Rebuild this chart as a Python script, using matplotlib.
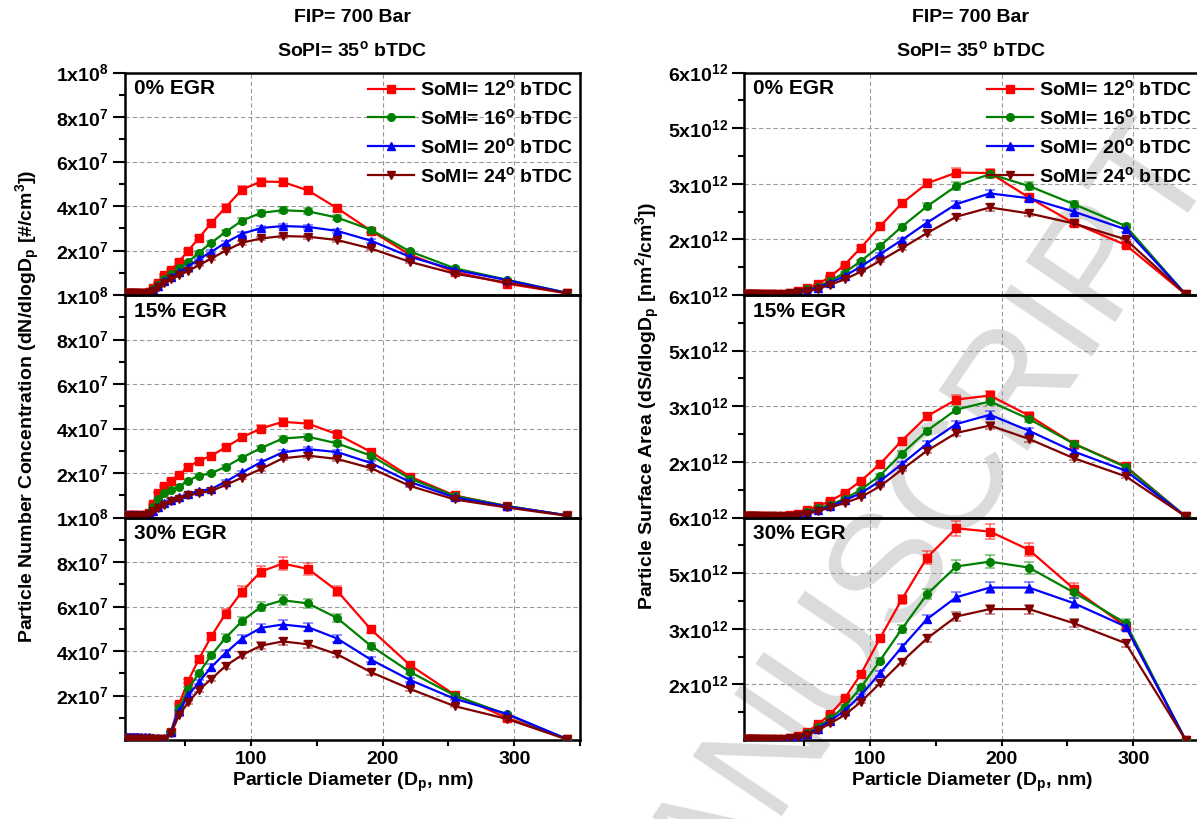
import matplotlib.pyplot as plt
import numpy as np

plt.rcParams['font.family'] = ['Liberation Sans', 'DejaVu Sans']
plt.rcParams['font.weight'] = 'bold'
plt.rcParams['axes.labelweight'] = 'bold'
plt.rcParams['mathtext.fontset'] = 'custom'
plt.rcParams['mathtext.rm'] = 'Liberation Sans:bold'
plt.rcParams['mathtext.it'] = 'Liberation Sans:bold'
plt.rcParams['mathtext.bf'] = 'Liberation Sans:bold'

# particle diameter bins (nm)
dp = [6.04, 6.98, 8.06, 9.31, 10.8, 12.4, 14.3, 16.5, 19.1, 22.1, 25.5, 29.4, 34.0, 39.2, 45.3,
      52.3, 60.4, 69.8, 80.6, 93.1, 107.5, 124.1, 143.3, 165.5, 191.1, 220.7, 254.8, 294.3, 339.8]

# number concentration dN/dlogDp, in 1e7 #/cm3
n0_12 = [0.10, 0.10, 0.10, 0.10, 0.10, 0.10, 0.10, 0.10, 0.11, 0.14, 0.30, 0.56, 0.90, 1.14, 1.50,
         2.00, 2.56, 3.24, 3.93, 4.74, 5.10, 5.08, 4.70, 3.90, 2.89, 1.81, 1.04, 0.51, 0.08]
n0_16 = [0.10, 0.10, 0.10, 0.10, 0.10, 0.10, 0.10, 0.10, 0.11, 0.13, 0.25, 0.45, 0.72, 0.95, 1.20,
         1.49, 1.91, 2.35, 2.83, 3.34, 3.69, 3.81, 3.76, 3.48, 2.93, 1.96, 1.20, 0.69, 0.10]
n0_20 = [0.10, 0.10, 0.10, 0.10, 0.10, 0.10, 0.10, 0.10, 0.11, 0.12, 0.22, 0.42, 0.62, 0.82, 1.02,
         1.28, 1.61, 1.94, 2.35, 2.75, 3.01, 3.10, 3.06, 2.88, 2.44, 1.72, 1.13, 0.67, 0.10]
n0_24 = [0.08, 0.08, 0.08, 0.08, 0.08, 0.08, 0.08, 0.08, 0.09, 0.10, 0.18, 0.35, 0.52, 0.70, 0.88,
         1.08, 1.34, 1.64, 1.99, 2.35, 2.54, 2.65, 2.62, 2.47, 2.09, 1.49, 0.96, 0.56, 0.08]

n15_12 = [0.10, 0.10, 0.10, 0.10, 0.10, 0.10, 0.10, 0.10, 0.12, 0.20, 0.60, 1.12, 1.42, 1.63, 1.90,
          2.28, 2.55, 2.78, 3.15, 3.60, 4.00, 4.30, 4.22, 3.74, 2.95, 1.84, 0.99, 0.51, 0.10]
n15_16 = [0.10, 0.10, 0.10, 0.10, 0.10, 0.10, 0.10, 0.10, 0.11, 0.18, 0.45, 0.82, 1.09, 1.24, 1.39,
          1.66, 1.88, 1.99, 2.28, 2.69, 3.12, 3.55, 3.63, 3.33, 2.78, 1.75, 0.97, 0.52, 0.10]
n15_20 = [0.10, 0.10, 0.10, 0.10, 0.10, 0.10, 0.10, 0.10, 0.11, 0.15, 0.30, 0.48, 0.64, 0.79, 0.91,
          1.06, 1.19, 1.28, 1.61, 2.03, 2.48, 2.93, 3.07, 2.94, 2.45, 1.60, 0.90, 0.50, 0.10]
n15_24 = [0.08, 0.08, 0.08, 0.08, 0.08, 0.08, 0.08, 0.08, 0.10, 0.14, 0.28, 0.43, 0.57, 0.72, 0.84,
          0.99, 1.09, 1.19, 1.46, 1.79, 2.18, 2.66, 2.78, 2.63, 2.22, 1.42, 0.81, 0.45, 0.08]

n30_12 = [0.08, 0.08, 0.08, 0.08, 0.08, 0.08, 0.08, 0.08, 0.08, 0.08, 0.06, 0.05, 0.06, 0.37, 1.62,
          2.67, 3.64, 4.66, 5.67, 6.67, 7.57, 7.93, 7.69, 6.70, 4.97, 3.37, 2.03, 1.00, 0.05]
n30_16 = [0.08, 0.08, 0.08, 0.08, 0.08, 0.08, 0.08, 0.08, 0.08, 0.08, 0.06, 0.05, 0.06, 0.37, 1.42,
          2.30, 3.01, 3.81, 4.59, 5.34, 5.99, 6.28, 6.14, 5.48, 4.23, 3.06, 2.00, 1.15, 0.05]
n30_20 = [0.12, 0.12, 0.12, 0.12, 0.12, 0.12, 0.12, 0.12, 0.12, 0.12, 0.10, 0.08, 0.07, 0.37, 1.31,
          2.01, 2.60, 3.28, 3.91, 4.56, 5.04, 5.19, 5.07, 4.56, 3.61, 2.70, 1.85, 1.18, 0.05]
n30_24 = [0.04, 0.04, 0.04, 0.04, 0.04, 0.04, 0.04, 0.04, 0.04, 0.04, 0.03, 0.03, 0.04, 0.30, 1.12,
          1.69, 2.25, 2.74, 3.33, 3.82, 4.24, 4.43, 4.30, 3.85, 3.05, 2.30, 1.52, 0.95, 0.03]

# surface area dS/dlogDp, in 1e12 nm2/cm3
s0_12 = [0.04, 0.04, 0.04, 0.04, 0.04, 0.04, 0.04, 0.04, 0.04, 0.04, 0.04, 0.04, 0.04, 0.06, 0.10,
         0.18, 0.29, 0.50, 0.81, 1.28, 1.85, 2.47, 3.01, 3.30, 3.29, 2.63, 1.94, 1.35, 0.02]
s0_16 = [0.04, 0.04, 0.04, 0.04, 0.04, 0.04, 0.04, 0.04, 0.04, 0.04, 0.04, 0.04, 0.04, 0.05, 0.09,
         0.15, 0.22, 0.38, 0.60, 0.92, 1.32, 1.84, 2.39, 2.94, 3.26, 2.94, 2.45, 1.86, 0.02]
s0_20 = [0.04, 0.04, 0.04, 0.04, 0.04, 0.04, 0.04, 0.04, 0.04, 0.04, 0.04, 0.04, 0.04, 0.05, 0.08,
         0.12, 0.20, 0.33, 0.51, 0.77, 1.10, 1.48, 1.95, 2.45, 2.74, 2.61, 2.25, 1.77, 0.02]
s0_24 = [0.04, 0.04, 0.04, 0.04, 0.04, 0.04, 0.04, 0.04, 0.04, 0.04, 0.04, 0.04, 0.04, 0.05, 0.07,
         0.10, 0.16, 0.28, 0.42, 0.63, 0.92, 1.26, 1.67, 2.11, 2.36, 2.20, 1.93, 1.50, 0.02]

s15_12 = [0.04, 0.04, 0.04, 0.04, 0.04, 0.04, 0.04, 0.04, 0.04, 0.04, 0.04, 0.04, 0.04, 0.06, 0.10,
          0.20, 0.30, 0.45, 0.66, 0.99, 1.44, 2.07, 2.73, 3.18, 3.29, 2.75, 1.99, 1.38, 0.03]
s15_16 = [0.04, 0.04, 0.04, 0.04, 0.04, 0.04, 0.04, 0.04, 0.04, 0.04, 0.04, 0.04, 0.04, 0.05, 0.08,
          0.15, 0.25, 0.35, 0.50, 0.75, 1.13, 1.72, 2.34, 2.91, 3.13, 2.66, 1.99, 1.36, 0.03]
s15_20 = [0.04, 0.04, 0.04, 0.04, 0.04, 0.04, 0.04, 0.04, 0.04, 0.04, 0.04, 0.04, 0.04, 0.05, 0.07,
          0.12, 0.20, 0.30, 0.46, 0.66, 0.98, 1.44, 1.99, 2.52, 2.77, 2.34, 1.78, 1.26, 0.03]
s15_24 = [0.04, 0.04, 0.04, 0.04, 0.04, 0.04, 0.04, 0.04, 0.04, 0.04, 0.04, 0.04, 0.04, 0.05, 0.06,
          0.10, 0.17, 0.27, 0.39, 0.55, 0.84, 1.29, 1.80, 2.28, 2.48, 2.12, 1.60, 1.11, 0.03]

s30_12 = [0.04, 0.04, 0.04, 0.04, 0.04, 0.04, 0.04, 0.04, 0.04, 0.04, 0.04, 0.04, 0.04, 0.06, 0.12,
          0.22, 0.42, 0.70, 1.12, 1.78, 2.74, 3.79, 4.92, 5.71, 5.62, 5.13, 4.08, 3.06, 0.00]
s30_16 = [0.04, 0.04, 0.04, 0.04, 0.04, 0.04, 0.04, 0.04, 0.04, 0.04, 0.04, 0.04, 0.04, 0.05, 0.09,
          0.18, 0.35, 0.58, 0.90, 1.42, 2.14, 2.99, 3.93, 4.68, 4.81, 4.65, 3.98, 3.15, 0.00]
s30_20 = [0.04, 0.04, 0.04, 0.04, 0.04, 0.04, 0.04, 0.04, 0.04, 0.04, 0.04, 0.04, 0.04, 0.05, 0.08,
          0.16, 0.31, 0.52, 0.79, 1.21, 1.80, 2.50, 3.26, 3.85, 4.11, 4.11, 3.69, 3.06, 0.00]
s30_24 = [0.04, 0.04, 0.04, 0.04, 0.04, 0.04, 0.04, 0.04, 0.04, 0.04, 0.04, 0.04, 0.04, 0.05, 0.07,
          0.13, 0.26, 0.45, 0.67, 1.03, 1.53, 2.11, 2.74, 3.33, 3.53, 3.53, 3.15, 2.61, 0.00]

egr_labels = ['0% EGR', '15% EGR', '30% EGR']
somi_labels = ['SoMI= 12$^o$ bTDC', 'SoMI= 16$^o$ bTDC', 'SoMI= 20$^o$ bTDC', 'SoMI= 24$^o$ bTDC']
colors = ['#ff0000', '#008000', '#0000ff', '#800000']
markers = ['s', 'o', '^', 'v']

number = [[n0_12, n0_16, n0_20, n0_24], [n15_12, n15_16, n15_20, n15_24], [n30_12, n30_16, n30_20, n30_24]]
surface = [[s0_12, s0_16, s0_20, s0_24], [s15_12, s15_16, s15_20, s15_24], [s30_12, s30_16, s30_20, s30_24]]

n_ticks = [2, 4, 6, 8, 10]
n_minor = [1, 3, 5, 7, 9]
n_ticklabels = ['2x10$^7$', '4x10$^7$', '6x10$^7$', '8x10$^7$', '1x10$^8$']
s_ticks = [1.5, 3.0, 4.5, 6.0]
s_minor = [0.75, 2.25, 3.75, 5.25]
s_ticklabels = ['2x10$^{12}$', '3x10$^{12}$', '5x10$^{12}$', '6x10$^{12}$']

rel_err = 0.035

W, H = 1197, 819
fig = plt.figure(figsize=(W / 100, H / 100), dpi=100)

# watermark (cut by the figure edge, as in the reference)
fig.text(893 / W, 1 - 560 / H, 'MANUSCRIPT', rotation=56, fontsize=112, color='0.86',
         fontweight='normal', ha='center', va='center', rotation_mode='anchor', zorder=-1)

top_px, bot_px = 72.5, 740
ph = (bot_px - top_px) / 3 / H


def column(x0_px, data, ticks, minor, ticklabels, ymax):
    for row in range(3):
        ax = fig.add_axes([x0_px / W, 1 - bot_px / H + (2 - row) * ph, 455 / W, ph])
        ax.set_facecolor('none')
        for k in range(4):
            vals = np.array(data[row][k])
            ax.errorbar(dp, vals, yerr=vals * rel_err, fmt='none', ecolor=colors[k],
                        elinewidth=1.1, capsize=3.5, capthick=1.1, alpha=0.55, zorder=2)
            ax.plot(dp, vals, color=colors[k], marker=markers[k], markersize=5.5, lw=1.6,
                    label=somi_labels[k], zorder=3)
        ax.set_xlim(4.2, 349)
        ax.set_ylim(0, ymax)
        ax.set_yticks(ticks)
        ax.set_yticklabels(ticklabels, fontweight='bold')
        ax.set_yticks(minor, minor=True)
        ax.set_xticks([100, 200, 300])
        ax.set_xticks([50, 150, 250, 350], minor=True)
        ax.grid(True, which='major', ls=(0, (4, 2.5)), color='0.6', lw=0.8, zorder=0)
        ax.tick_params(axis='y', which='major', direction='out', length=8.5, width=1.5,
                       labelsize=14, pad=3)
        ax.tick_params(axis='y', which='minor', direction='out', length=4.5, width=1.5)
        if row < 2:
            ax.tick_params(axis='x', which='both', length=0, labelbottom=False)
        else:
            ax.tick_params(axis='x', which='both', direction='out', length=4, width=1.5,
                           labelsize=14, pad=4)
            ax.set_xticklabels(['100', '200', '300'], fontweight='bold')
            ax.set_xlabel('Particle Diameter (D$_p$, nm)', fontsize=14, fontweight='bold',
                          labelpad=2)
        for s in ax.spines.values():
            s.set_linewidth(1.8)
        ax.text(0.02, 0.97, egr_labels[row], transform=ax.transAxes, fontsize=15,
                fontweight='bold', ha='left', va='top')
        if row == 0:
            ax.legend(loc='upper right', frameon=False, handlelength=2.4,
                      prop={'size': 14, 'weight': 'bold'},
                      handletextpad=0.3, labelspacing=0.45, borderaxespad=0.15, borderpad=0.2)


column(125, number, n_ticks, n_minor, n_ticklabels, 10)
column(744, surface, s_ticks, s_minor, s_ticklabels, 6)

for xc in (352, 971):
    fig.text(xc / W, 1 - 18 / H, 'FIP= 700 Bar', fontsize=14, fontweight='bold',
             ha='center', va='center')
    fig.text(xc / W, 1 - 50 / H, 'SoPI= 35$^o$ bTDC', fontsize=14, fontweight='bold',
             ha='center', va='center')

fig.text(28 / W, 1 - 406 / H, 'Particle Number Concentration (dN/dlogD$_p$ [#/cm$^3$])',
         rotation=90, fontsize=14, fontweight='bold', ha='center', va='center')
fig.text(648 / W, 1 - 406 / H, 'Particle Surface Area (dS/dlogD$_p$ [nm$^2$/cm$^3$])',
         rotation=90, fontsize=14, fontweight='bold', ha='center', va='center')

fig.savefig('out.png', dpi=100)
